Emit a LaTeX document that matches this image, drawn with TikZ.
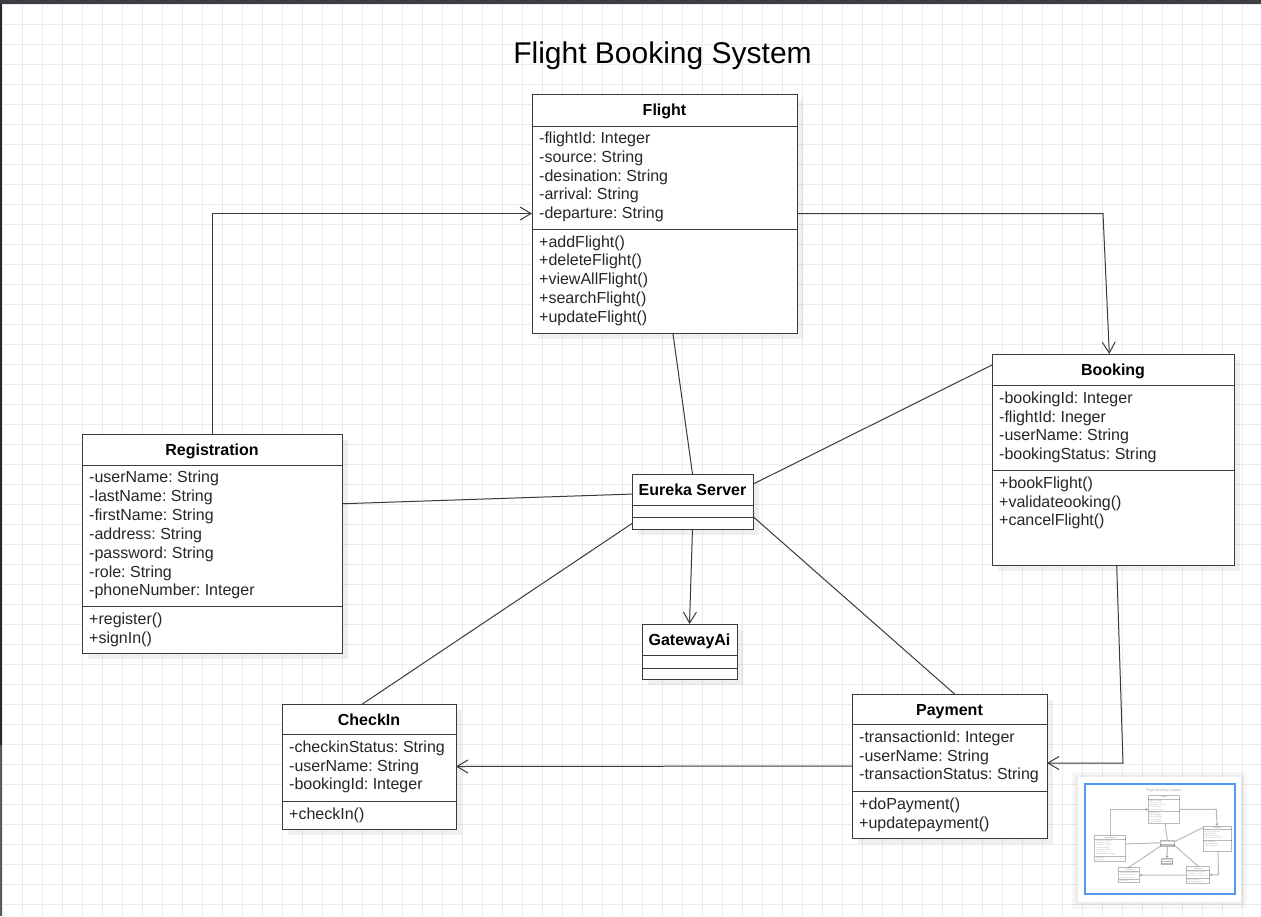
\documentclass[tikz,border=0pt]{standalone}
\usepackage{fontspec}
\setmainfont{Liberation Sans}
\usetikzlibrary{arrows.meta,shadows}

\definecolor{linecol}{HTML}{3A3A3A}
\definecolor{gridcol}{HTML}{EBEBEB}
\definecolor{topbar}{HTML}{3B3F43}
\definecolor{mapblue}{HTML}{4D9BF0}

\tikzset{
  gridline/.style={draw=gridcol, line width=0.8pt},
  boxshadow/.style={drop shadow={shadow xshift=6pt, shadow yshift=-6pt, opacity=0.06, fill=black}},
  classbox/.style={draw=linecol, line width=1pt, fill=white, anchor=north west,
    inner sep=0pt, outer sep=0pt, boxshadow},
  boxline/.style={draw=linecol, line width=1pt},
  classname/.style={anchor=base, inner sep=0pt, font=\frenchspacing\bfseries\fontsize{16}{19}\selectfont},
  member/.style={anchor=base west, inner sep=0pt, text=black!85, font=\frenchspacing\fontsize{16}{19}\selectfont},
  titletext/.style={anchor=base, inner sep=0pt, font=\fontsize{30}{36}\selectfont},
  assoc/.style={draw=linecol, line width=1pt},
  umlarrow/.style={draw=linecol, line width=1pt, -{Straight Barb[length=11pt,width=13pt]}},
}

\newcommand\flightdiagram{%
  \node[titletext] (title) at (662.5,63) {Flight Booking System};
  % Flight
  \node[classbox, minimum width=265, minimum height=239] (flight) at (532,94) {};
  \node[classname] (flight-name) at (664.5,115.5) {Flight};
  \draw[boxline] (532,126) -- ++(265,0) (532,229) -- ++(265,0);
  \foreach \txt [count=\i from 0] in {-flightId: Integer, -source: String, -desination: String, -arrival: String, -departure: String}
    \node[member] (flight-a\i) at (539,143.5+18.8*\i) {\txt};
  \foreach \txt [count=\i from 0] in {+addFlight(), +deleteFlight(), +viewAllFlight(), +searchFlight(), +updateFlight()}
    \node[member] (flight-m\i) at (539,247+18.8*\i) {\txt};
  % Booking
  \node[classbox, minimum width=242, minimum height=211] (booking) at (992,354) {};
  \node[classname] (booking-name) at (1113,375.5) {Booking};
  \draw[boxline] (992,385.5) -- ++(242,0) (992,470.5) -- ++(242,0);
  \foreach \txt [count=\i from 0] in {-bookingId: Integer, -flightId: Ineger, -userName: String, -bookingStatus: String}
    \node[member] (booking-a\i) at (999,403.3+18.8*\i) {\txt};
  \foreach \txt [count=\i from 0] in {+bookFlight(), +validateooking(), +cancelFlight()}
    \node[member] (booking-m\i) at (999,488.3+18.8*\i) {\txt};
  % Registration
  \node[classbox, minimum width=260, minimum height=219] (registration) at (82,434) {};
  \node[classname] (registration-name) at (212,455.5) {Registration};
  \draw[boxline] (82,465) -- ++(260,0) (82,606.5) -- ++(260,0);
  \foreach \txt [count=\i from 0] in {-userName: String, -lastName: String, -firstName: String, -address: String, -password: String, -role: String, -phoneNumber: Integer}
    \node[member] (registration-a\i) at (89,482.5+18.9*\i) {\txt};
  \foreach \txt [count=\i from 0] in {+register(), +signIn()}
    \node[member] (registration-m\i) at (89,624.3+18.9*\i) {\txt};
  % CheckIn
  \node[classbox, minimum width=174, minimum height=125] (checkin) at (282,704) {};
  \node[classname] (checkin-name) at (369,725.5) {CheckIn};
  \draw[boxline] (282,734.5) -- ++(174,0) (282,801) -- ++(174,0);
  \foreach \txt [count=\i from 0] in {-checkinStatus: String, -userName: String, -bookingId: Integer}
    \node[member] (checkin-a\i) at (289,752.3+18.8*\i) {\txt};
  \node[member] (checkin-m0) at (289,819) {+checkIn()};
  % Payment
  \node[classbox, minimum width=195, minimum height=144] (payment) at (852,694) {};
  \node[classname] (payment-name) at (949.5,715.5) {Payment};
  \draw[boxline] (852,724.5) -- ++(195,0) (852,791.5) -- ++(195,0);
  \foreach \txt [count=\i from 0] in {-transactionId: Integer, -userName: String, -transactionStatus: String}
    \node[member] (payment-a\i) at (859,742.3+18.8*\i) {\txt};
  \foreach \txt [count=\i from 0] in {+doPayment(), +updatepayment()}
    \node[member] (payment-m\i) at (859,809.3+18.8*\i) {\txt};
  % Eureka Server and GatewayAi
  \node[classbox, minimum width=121, minimum height=55] (eureka) at (632,474) {};
  \node[classname] (eureka-name) at (692.5,495.5) {Eureka Server};
  \draw[boxline] (632,505) -- ++(121,0) (632,517) -- ++(121,0);
  \node[classbox, minimum width=95, minimum height=55] (gateway) at (642,624) {};
  \node[classname] (gateway-name) at (689.5,645.5) {GatewayAi};
  \draw[boxline] (642,655) -- ++(95,0) (642,668) -- ++(95,0);
  % connectors
  \coordinate (bend1) at (1103,213.5);
  \coordinate (bend2) at (1123,763);
  \draw[umlarrow] (registration.north) |- (flight.west);
  \draw[umlarrow] (flight.east) -- (bend1) -- (booking.92);
  \draw[umlarrow] (booking.272) -- (bend2) -- (bend2 -| payment.east);
  \draw[umlarrow] (payment.west) -- (checkin.east);
  \draw[umlarrow] (eureka.south) -- (gateway.north);
  \draw[assoc] (flight.274) -- (eureka.north);
  \draw[assoc] (booking.142) -- (eureka.16);
  \draw[assoc] (registration.17) -- (eureka.173);
  \draw[assoc] (eureka.200) -- (checkin.96);
  \draw[assoc] (eureka.346) -- (payment.86);
}

\begin{document}
\begin{tikzpicture}[x=1pt, y=-1pt]
\useasboundingbox (0,0) rectangle (1261,916);
\fill[white] (0,0) rectangle (1261,916);
% canvas grid
\draw[gridline, shift={(2.5,4)}, step=20pt] (0,0) grid (1260,912);
\fill[topbar] (0,0) rectangle (1261,4);
\fill[black!85] (0,4) rectangle (2,745);
\fill[black!65] (0,745) rectangle (2,916);

\flightdiagram

% outline panel
\fill[black, opacity=0.03] (1072,772) rectangle (1247,909);
\fill[black, opacity=0.04] (1075,775) rectangle (1244,905);
\fill[white] (1078,777) rectangle (1241,902);
\begin{scope}[shift={(1085,784)}, scale=0.119, transform shape, opacity=0.35,
    boxshadow/.style={},
    umlarrow/.style={draw=linecol, line width=1pt, -{Straight Barb[length=1.6pt,width=2pt]}}]
  \flightdiagram
\end{scope}
\draw[mapblue, line width=1.5pt] (1085,784) rectangle (1235,894);
\end{tikzpicture}
\end{document}
